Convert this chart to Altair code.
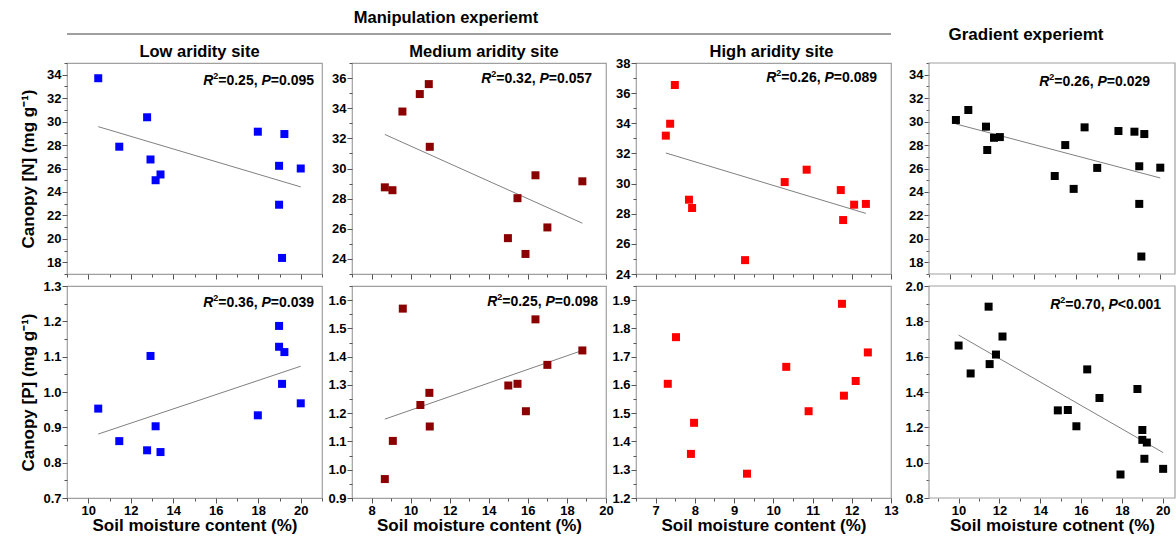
import altair as alt
import pandas as pd

FONT = "Liberation Sans"

# ---------------- data ----------------
low_xN = [10.47, 11.46, 12.77, 12.93, 13.17, 13.40, 17.98, 19.23, 18.98, 20.00, 18.98, 19.12]
low_N = [33.70, 27.86, 30.37, 26.77, 25.00, 25.49, 29.14, 28.94, 26.23, 26.00, 22.91, 18.37]
low_xP = [10.47, 11.46, 12.77, 12.93, 13.17, 13.40, 17.98, 18.98, 18.98, 19.23, 19.12, 20.00]
low_P = [0.953, 0.861, 0.835, 1.102, 0.903, 0.830, 0.934, 1.187, 1.128, 1.113, 1.023, 0.968]

med_xN = [8.68, 9.07, 9.58, 10.47, 10.93, 10.98, 14.98, 15.47, 15.88, 16.39, 17.00, 18.79]
med_N = [28.75, 28.56, 33.78, 34.94, 35.60, 31.44, 25.38, 28.03, 24.33, 29.55, 26.09, 29.15]
med_xP = [8.68, 9.09, 9.60, 10.50, 10.96, 10.98, 15.00, 15.47, 15.90, 16.39, 17.00, 18.79]
med_P = [0.967, 1.102, 1.570, 1.229, 1.272, 1.153, 1.298, 1.304, 1.207, 1.532, 1.371, 1.422]

high_xN = [7.26, 7.37, 7.49, 7.85, 7.93, 9.28, 10.29, 10.85, 11.72, 11.78, 12.06, 12.36]
high_N = [33.18, 33.97, 36.54, 28.93, 28.38, 24.92, 30.10, 30.92, 29.57, 27.58, 28.60, 28.65]
high_xP = [7.31, 7.52, 7.90, 7.98, 9.33, 10.33, 10.90, 11.75, 11.80, 12.10, 12.41]
high_P = [1.604, 1.769, 1.356, 1.466, 1.286, 1.664, 1.507, 1.887, 1.562, 1.614, 1.715]

grad_xN = [10.28, 10.87, 11.71, 11.77, 12.09, 12.37, 14.98, 15.48, 15.88, 16.40, 17.00,
           18.01, 18.77, 19.00, 19.24, 20.00, 19.00, 19.10]
grad_N = [30.14, 30.99, 29.57, 27.58, 28.62, 28.68, 25.36, 28.00, 24.26, 29.51, 26.05,
          29.20, 29.14, 26.19, 28.94, 26.07, 22.98, 18.49]
grad_xP = [10.00, 10.59, 11.47, 11.52, 11.83, 12.15, 14.86, 15.35, 15.77, 16.30, 16.90,
           17.93, 18.76, 19.00, 19.00, 19.22, 19.10, 20.02]
grad_P = [1.663, 1.505, 1.883, 1.558, 1.612, 1.714, 1.296, 1.298, 1.206, 1.528, 1.366,
          0.933, 1.417, 1.185, 1.129, 1.114, 1.022, 0.965]

# fitted lines (end points)
low_fitN_x, low_fitN_y = [10.47, 20.0], [29.57, 24.43]
low_fitP_x, low_fitP_y = [10.47, 20.0], [0.881, 1.073]
med_fitN_x, med_fitN_y = [8.68, 18.79], [32.26, 26.37]
med_fitP_x, med_fitP_y = [8.68, 18.79], [1.179, 1.422]
high_fitN_x, high_fitN_y = [7.26, 12.36], [32.03, 28.02]
grad_fitN_x, grad_fitN_y = [10.28, 20.0], [29.80, 25.19]
grad_fitP_x, grad_fitP_y = [10.0, 20.02], [1.722, 1.057]

# statistics text
low_stat_N = ("0.25", "=", "0.095")
low_stat_P = ("0.36", "=", "0.039")
med_stat_N = ("0.32", "=", "0.057")
med_stat_P = ("0.25", "=", "0.098")
high_stat_N = ("0.26", "=", "0.089")
grad_stat_N = ("0.26", "=", "0.029")
grad_stat_P = ("0.70", "<", "0.001")

titles = ["Low aridity site", "Medium aridity site", "High aridity site"]
group_titles = ["Manipulation experiemt", "Gradient experiemt"]
y_titles = ["Canopy [N] (mg g\u207b\u00b9)", "Canopy [P] (mg g\u207b\u00b9)"]
x_titles = ["Soil moisture content (%)", "Soil moisture cotnent (%)"]

COL_LOW, COL_MED, COL_HIGH, COL_GRAD = "#0000ff", "#8b0000", "#ff0000", "#000000"
FRAME = "#a0a0a0"

# ---------------- helpers ----------------
ONE = pd.DataFrame({"k": [0]})
METRIC = {".": 278, ",": 278, " ": 278, "=": 584, "<": 584, "R": 722, "P": 667}


def tw(s, size):
    return sum(METRIC.get(c, 556) for c in s) * size / 1000.0


def ticks(lo, hi, step):
    n = int(round((hi - lo) / step))
    return [round(lo + i * step, 4) for i in range(n + 1)]


def axis(values, major, fmt, labels, title=None, tx=None, ty=None, offset=0):
    test = f"abs(datum.value/{major} - round(datum.value/{major})) < 0.001"
    kw = dict(values=values, format=fmt, labels=labels,
              labelExpr=f"({test}) ? format(datum.value, '{fmt}') : ''",
              tickSize={"condition": {"test": test, "value": 5}, "value": 3},
              labelFlush=False, labelOverlap=False, title=title)
    if offset:
        kw["offset"] = offset
    if title:
        kw.update(titleX=tx, titleY=ty, titleBaseline="alphabetic", titleAlign="center",
                  titleFontSize=17, titleFontWeight="bold", titleFont=FONT, titleColor="black")
    return alt.Axis(**kw)


def txt(text, x, y, size, style="normal", align="left"):
    return alt.Chart(ONE).mark_text(
        text=text, font=FONT, fontSize=size, fontWeight="bold", fontStyle=style,
        align=align, baseline="alphabetic", color="black"
    ).encode(x=alt.value(x), y=alt.value(y))


def stat_layers(right, gap, base, stat):
    r2, op, p = stat
    s, sup = 14, 9
    parts = [("R", "italic", s, 0), ("2", "normal", sup, -6), ("=" + r2 + ",", "normal", s, 0),
             (" ", None, s, 0), ("P", "italic", s, 0), (op + p, "normal", s, 0)]
    total = sum(tw(t, sz) for t, _, sz, _ in parts)
    x = right - gap - total
    out = []
    for t, st, sz, dy in parts:
        if st is not None:
            out.append(txt(t, x, base + dy, sz, st))
        x += tw(t, sz)
    return out


def panel(xs, ys, color, W, H, xdom, xvals, xmaj, ydom, yvals, ymaj, yfmt,
          xlabels, xtitle, ytitle, fit=None, stat=None, extra=(), off=0):
    # off: blank strip left of the plot frame (used to widen the gap before a column)
    xax = axis(xvals, xmaj, ".0f", xlabels, xtitle, tx=off + W / 2, ty=32)
    yax = axis(yvals, ymaj, yfmt, True, ytitle, tx=-34, ty=H / 2, offset=-off)
    xsc = alt.Scale(domain=xdom, nice=False, zero=False, range=[off, off + W]) if off else \
        alt.Scale(domain=xdom, nice=False, zero=False)
    X = alt.X("x:Q", scale=xsc, axis=xax)
    Y = alt.Y("y:Q", scale=alt.Scale(domain=ydom, nice=False, zero=False), axis=yax)
    layers = []
    if off:
        layers.append(alt.Chart(ONE).mark_rect(fillOpacity=0, stroke=FRAME, strokeWidth=1.2).encode(
            x=alt.value(off), x2=alt.value(off + W), y=alt.value(0), y2=alt.value(H)))
    if fit is not None:
        fdf = pd.DataFrame({"x": fit[0], "y": fit[1]})
        layers.append(alt.Chart(fdf).mark_line(color="#808080", strokeWidth=1).encode(x=X, y=Y))
    df = pd.DataFrame({"x": xs, "y": ys})
    layers.append(alt.Chart(df).mark_square(size=64, color=color, opacity=1).encode(x=X, y=Y))
    if stat is not None:
        layers += stat_layers(off + W, *stat)
    layers += list(extra)
    ch = alt.layer(*layers).properties(width=W + off, height=H)
    if off:
        ch = ch.properties(view=alt.ViewBackground(strokeOpacity=0))
    return ch


HT, HB = 211, 212
W1, W2, W3, W4 = 255, 254, 255, 246
OFF4 = 8

# column 1: low aridity
p1t = panel(low_xN, low_N, COL_LOW, W1, HT, [9, 21], ticks(9, 21, 1), 2, [17, 35], ticks(17, 35, 1), 2, ".0f",
            False, None, y_titles[0], (low_fitN_x, low_fitN_y), (8, 22, low_stat_N),
            extra=[txt(titles[0], W1 / 2 + 5, -6, 16.5, align="center"),
                   alt.Chart(ONE).mark_rule(color="#808080", strokeWidth=1.5).encode(
                       x=alt.value(0), x2=alt.value(824), y=alt.value(-29)),
                   txt(group_titles[0], 379, -40, 16.5, align="center")])
p1b = panel(low_xP, low_P, COL_LOW, W1, HB, [9, 21], ticks(9, 21, 1), 2, [0.7, 1.3], ticks(0.7, 1.3, 0.05), 0.1, ".1f",
            True, x_titles[0], y_titles[1], (low_fitP_x, low_fitP_y), (8, 21, low_stat_P))

# column 2: medium aridity
p2t = panel(med_xN, med_N, COL_MED, W2, HT, [7, 20], ticks(7, 20, 1), 2, [23, 37], ticks(23, 37, 1), 2, ".0f",
            False, None, None, (med_fitN_x, med_fitN_y), (14, 20, med_stat_N),
            extra=[txt(titles[1], W2 / 2 + 5, -6, 16.5, align="center")])
p2b = panel(med_xP, med_P, COL_MED, W2, HB, [7, 20], ticks(7, 20, 1), 2, [0.9, 1.65], ticks(0.9, 1.65, 0.05), 0.1, ".1f",
            True, x_titles[0], None, (med_fitP_x, med_fitP_y), (8, 20, med_stat_P))

# column 3: high aridity
p3t = panel(high_xN, high_N, COL_HIGH, W3, HT, [6.5, 13], ticks(6.5, 13, 0.5), 1, [24, 38], ticks(24, 38, 1), 2, ".0f",
            False, None, None, (high_fitN_x, high_fitN_y), (14, 19, high_stat_N),
            extra=[txt(titles[2], W3 / 2 + 8, -6, 16.5, align="center")])
p3b = panel(high_xP, high_P, COL_HIGH, W3, HB, [6.5, 13], ticks(6.5, 13, 0.5), 1, [1.2, 1.95], ticks(1.2, 1.95, 0.05), 0.1, ".1f",
            True, x_titles[0], None)

# column 4: gradient
p4t = panel(grad_xN, grad_N, COL_GRAD, W4, HT, [9, 20.7], ticks(9, 20, 1), 2, [17, 35], ticks(17, 35, 1), 2, ".0f",
            False, None, None, (grad_fitN_x, grad_fitN_y), (25, 23, grad_stat_N),
            extra=[txt(group_titles[1], OFF4 + W4 / 2 - 26, -23, 17, align="center")], off=OFF4)
p4b = panel(grad_xP, grad_P, COL_GRAD, W4, HB, [8.55, 20.6], ticks(9, 20, 1), 2, [0.8, 2.0], ticks(0.8, 2.0, 0.1), 0.2, ".1f",
            True, x_titles[1], None, (grad_fitP_x, grad_fitP_y), (14, 22.7, grad_stat_P), off=OFF4)

chart = alt.concat(
    p1t, p2t, p3t, p4t, p1b, p2b, p3b, p4b,
    columns=4, spacing={"row": 12, "column": 30}, bounds="flush", align="each"
).properties(
    padding={"left": 18, "top": 9, "right": 0, "bottom": 5}
).configure(font=FONT).configure_view(
    stroke=FRAME, strokeWidth=1.2
).configure_axis(
    domain=False, grid=False, labelFont=FONT, labelFontSize=13, labelFontWeight="bold",
    labelColor="black", tickColor="#555555", tickWidth=1, labelPadding=1
)

chart.save("out.html", embed_options={"renderer": "svg", "actions": False})
